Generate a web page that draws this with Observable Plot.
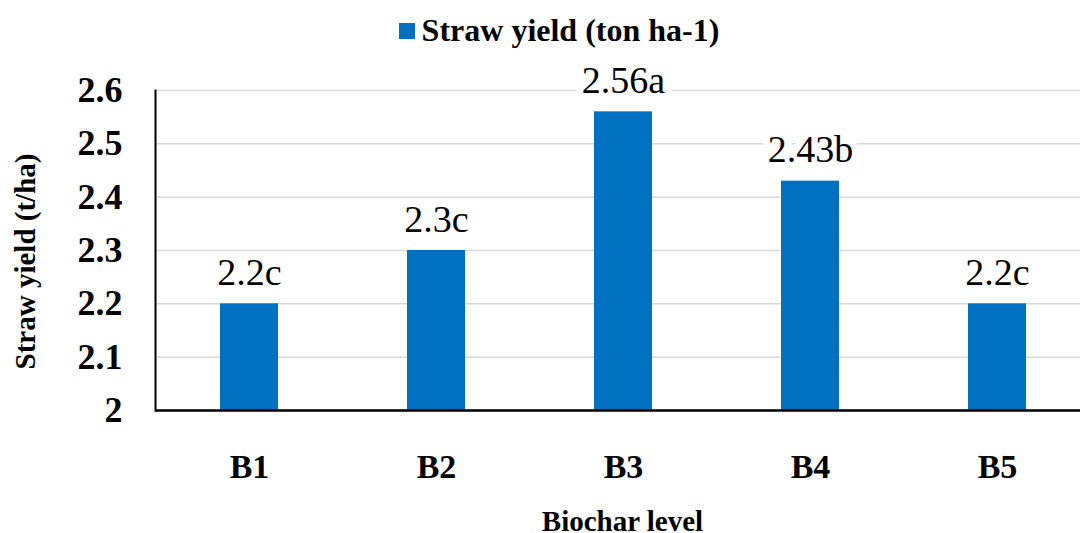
<!DOCTYPE html>
<html>
<head>
<meta charset="utf-8">
<script src="https://cdn.jsdelivr.net/npm/d3@7"></script>
<script src="https://cdn.jsdelivr.net/npm/@observablehq/plot@0.6"></script>
<style>
  html, body { margin: 0; padding: 0; background: #fff; }
  #wrap { position: relative; width: 1080px; height: 533px; overflow: hidden; font-family: "Liberation Serif", "Times New Roman", serif; }
  #legend { position: absolute; top: 11px; left: 19px; width: 1080px; text-align: center; font-weight: bold; font-size: 32px; line-height: 38px; color: #000; z-index: 2; }
  #legend .sw { display: inline-block; width: 16px; height: 16px; background: #0070C0; margin-right: 7px; vertical-align: 2px; }
  #xtitle { position: absolute; top: 510px; left: 155px; width: 935px; text-align: center; font-weight: bold; font-size: 29px; line-height: 23px; z-index: 2; }
</style>
</head>
<body>
<div id="wrap">
  <div id="legend"><span class="sw"></span>Straw yield (ton ha-1)</div>
  <div id="chart"></div>
  <div id="xtitle">Biochar level</div>
</div>
<script>
const categories = ["B1", "B2", "B3", "B4", "B5"];
const strawYield = [2.2, 2.3, 2.56, 2.43, 2.2];
const letters = ["c", "c", "a", "b", "c"];
const yTicks = [2, 2.1, 2.2, 2.3, 2.4, 2.5, 2.6];

const data = categories.map((c, i) => ({cat: c, v: strawYield[i], lab: String(strawYield[i]) + letters[i]}));

const chart = Plot.plot({
  width: 1080,
  height: 533,
  marginLeft: 155,
  marginRight: -10,
  marginTop: 90,
  marginBottom: 123,
  style: {fontFamily: "Liberation Serif, Times New Roman, serif", background: "white", overflow: "visible"},
  x: {domain: categories, paddingInner: 0.69, paddingOuter: 0.345, label: null},
  y: {domain: [2, 2.6], label: null},
  marks: [
    Plot.gridY(yTicks, {stroke: "#D9D9D9", strokeOpacity: 1, strokeWidth: 1.5}),
    Plot.barY(data, {x: "cat", y1: 2, y2: "v", fill: "#0070C0"}),
    Plot.text(data, {x: "cat", y: "v", text: "lab", dy: -19, lineAnchor: "bottom", fontSize: 38, fill: "black", stroke: "white", strokeWidth: 14}),
    Plot.axisY(yTicks, {tickSize: 0, tickPadding: 33, fontSize: 36, fontWeight: "bold", fill: "black", tickFormat: d => d === 2 ? "2" : d.toFixed(1), label: null}),
    Plot.axisX({tickSize: 0, tickPadding: 43, fontSize: 34, fontWeight: "bold", fill: "black", label: null}),
    Plot.frame({anchor: "left", stroke: "black", strokeWidth: 2}),
    Plot.ruleY([2], {stroke: "black", strokeWidth: 2.5}),
    Plot.text(["Straw yield (t/ha)"], {frameAnchor: "left", textAnchor: "middle", text: d => d, rotate: -90, dx: -130, dy: 11, fontSize: 29, fontWeight: "bold", fill: "black"})
  ]
});
document.getElementById("chart").appendChild(chart);
</script>
</body>
</html>
